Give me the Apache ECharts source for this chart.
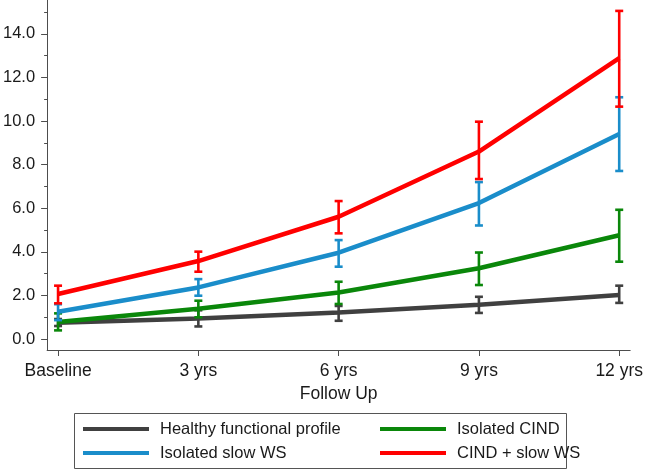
<!DOCTYPE html>
<html>
<head>
<meta charset="utf-8">
<script src="https://cdn.jsdelivr.net/npm/echarts@6/dist/echarts.min.js"></script>
<style>
html,body{margin:0;padding:0;background:#fff;}
#chart{width:646px;height:471px;}
</style>
</head>
<body>
<div id="chart"></div>
<script>
// ---- data ----
var categories = ["Baseline", "3 yrs", "6 yrs", "9 yrs", "12 yrs"];
var followUpYears = [0, 3, 6, 9, 12];
var yTickLabels = ["0.0", "2.0", "4.0", "6.0", "8.0", "10.0", "12.0", "14.0"];
var yTickValues = [0, 2, 4, 6, 8, 10, 12, 14];
var yMinorTickValues = [1, 3, 5, 7, 9, 11, 13, 15];

var seriesNames = ["Healthy functional profile", "Isolated slow WS", "Isolated CIND", "CIND + slow WS"];

var healthyMean  = [0.75, 0.95, 1.22, 1.58, 2.02];
var healthyLow   = [0.60, 0.58, 0.84, 1.20, 1.66];
var healthyHigh  = [0.92, 1.32, 1.52, 1.94, 2.45];

var slowWSMean   = [1.25, 2.37, 3.96, 6.24, 9.41];
var slowWSLow    = [0.87, 1.99, 3.32, 5.21, 7.71];
var slowWSHigh   = [1.60, 2.75, 4.54, 7.20, 11.09];

var cindMean     = [0.78, 1.39, 2.14, 3.25, 4.76];
var cindLow      = [0.40, 1.00, 1.61, 2.48, 3.55];
var cindHigh     = [1.18, 1.76, 2.63, 3.97, 5.93];

var bothMean     = [2.07, 3.58, 5.61, 8.60, 12.88];
var bothLow      = [1.64, 3.09, 4.85, 7.34, 10.66];
var bothHigh     = [2.45, 4.01, 6.33, 9.97, 15.05];

// ---- styles ----
var colors = ["#404040", "#1a8dca", "#0a870a", "#ff0000"];
var means = [healthyMean, slowWSMean, cindMean, bothMean];
var lows = [healthyLow, slowWSLow, cindLow, bothLow];
var highs = [healthyHigh, slowWSHigh, cindHigh, bothHigh];

var FONT = "Liberation Sans, Arial, sans-serif";

function lineData(arr) {
  return followUpYears.map(function (x, i) { return [x, arr[i]]; });
}
function errData(lo, hi) {
  return followUpYears.map(function (x, i) { return [x, lo[i], hi[i]]; });
}

function errRender(color) {
  return function (params, api) {
    var x = api.value(0);
    var p1 = api.coord([x, api.value(1)]);
    var p2 = api.coord([x, api.value(2)]);
    var cw = 4;
    var st = { stroke: color, lineWidth: 2.6, fill: null };
    return {
      type: 'group',
      children: [
        { type: 'line', shape: { x1: p1[0], y1: p1[1], x2: p2[0], y2: p2[1] }, style: st },
        { type: 'line', shape: { x1: p1[0] - cw, y1: p1[1], x2: p1[0] + cw, y2: p1[1] }, style: st },
        { type: 'line', shape: { x1: p2[0] - cw, y1: p2[1], x2: p2[0] + cw, y2: p2[1] }, style: st }
      ]
    };
  };
}

var series = [];
var drawOrder = [0, 2, 1, 3];
drawOrder.forEach(function (k, n) {
  series.push({
    name: seriesNames[k],
    type: 'line',
    data: lineData(means[k]),
    symbol: 'none',
    lineStyle: { width: 4.5, color: colors[k] },
    itemStyle: { color: colors[k] },
    z: 2 + n,
    animation: false
  });
  series.push({
    name: seriesNames[k],
    type: 'custom',
    data: errData(lows[k], highs[k]),
    renderItem: errRender(colors[k]),
    itemStyle: { color: colors[k] },
    z: 2 + n,
    animation: false
  });
});

var chart = echarts.init(document.getElementById('chart'), null, { renderer: 'canvas' });
chart.setOption({
  backgroundColor: '#ffffff',
  animation: false,
  textStyle: { fontFamily: FONT },
  grid: { left: 45, right: 14, top: 0, bottom: 121, containLabel: false },
  xAxis: {
    type: 'value',
    min: -0.234,
    max: 12.234,
    name: 'Follow Up',
    nameLocation: 'middle',
    nameGap: 28,
    nameTextStyle: { fontSize: 17.5, color: '#1a1a1a', fontFamily: FONT },
    axisLine: { show: true, onZero: false, lineStyle: { color: '#4d4d4d', width: 1 } },
    axisTick: { show: true, customValues: followUpYears, length: 6, lineStyle: { color: '#4d4d4d' } },
    axisLabel: {
      customValues: followUpYears,
      margin: 12,
      fontSize: 17.5,
      color: '#1a1a1a',
      fontFamily: FONT,
      formatter: function (v) { var i = followUpYears.indexOf(v); return i >= 0 ? categories[i] : ''; }
    },
    splitLine: { show: false }
  },
  yAxis: [{
    type: 'value',
    min: -0.5,
    max: 15.55,
    axisLine: { show: true, onZero: false, lineStyle: { color: '#4d4d4d', width: 1 } },
    axisTick: { show: true, customValues: yTickValues, length: 6, lineStyle: { color: '#4d4d4d' } },
    axisLabel: {
      customValues: yTickValues,
      margin: 12,
      fontSize: 16.5,
      color: '#1a1a1a',
      fontFamily: FONT,
      formatter: function (v) { var i = yTickValues.indexOf(v); return i >= 0 ? yTickLabels[i] : ''; }
    },
    splitLine: { show: false }
  }, {
    type: 'value',
    position: 'left',
    offset: 0,
    min: -0.5,
    max: 15.55,
    axisLine: { show: false, onZero: false },
    axisTick: { show: true, customValues: yMinorTickValues, length: 3, lineStyle: { color: '#4d4d4d' } },
    axisLabel: { show: false },
    splitLine: { show: false }
  }],
  legend: [{
    data: [seriesNames[0], seriesNames[1]],
    orient: 'vertical',
    left: 83,
    top: 420,
    padding: 0,
    itemGap: 6,
    itemWidth: 66,
    itemHeight: 4,
    icon: 'rect',
    selectedMode: false,
    textStyle: { fontSize: 16.5, lineHeight: 18, color: '#1a1a1a', fontFamily: FONT, padding: [0, 0, 0, 6] }
  }, {
    data: [seriesNames[2], seriesNames[3]],
    orient: 'vertical',
    left: 380,
    top: 420,
    padding: 0,
    itemGap: 6,
    itemWidth: 66,
    itemHeight: 4,
    icon: 'rect',
    selectedMode: false,
    textStyle: { fontSize: 16.5, lineHeight: 18, color: '#1a1a1a', fontFamily: FONT, padding: [0, 0, 0, 6] }
  }],
  graphic: [{
    type: 'rect',
    shape: { x: 74.5, y: 413.5, width: 492, height: 55 },
    style: { fill: null, stroke: '#555555', lineWidth: 1 },
    silent: true
  }],
  series: series
});
</script>
</body>
</html>
